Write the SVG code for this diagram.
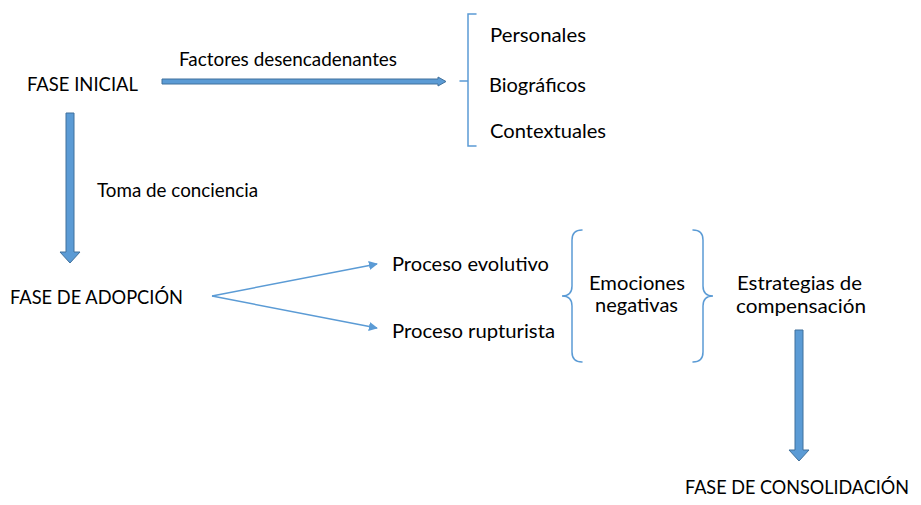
<svg xmlns="http://www.w3.org/2000/svg" width="921" height="505" viewBox="0 0 921 505">
<style>
text{font-family:Lato,"Open Sans","Liberation Sans",sans-serif;font-size:19px;fill:#000}
.blk{fill:#5B9BD5;stroke:#41719C;stroke-width:1}
.thin{fill:none;stroke:#5B9BD5;stroke-width:1.5}
.br{fill:none;stroke:#5B9BD5;stroke-width:1.5;stroke-linecap:round}
</style>
<defs>
<marker id="ah" viewBox="0 0 10 10" refX="9" refY="5" markerWidth="9" markerHeight="9" markerUnits="userSpaceOnUse" orient="auto">
<path d="M0,0 L10,5 L0,10 Z" fill="#5B9BD5"/>
</marker>
</defs>
<rect width="921" height="505" fill="#fff"/>
<g id="connectors">
<polygon class="blk" points="162,79 438,79 438,77 446,81.5 438,86 438,84 162,84"/>
<polygon class="blk" points="66,113 74,113 74,252 80,252 70,263 60,252 66,252"/>
<polygon class="blk" points="795,330 803,330 803,450 809,450 799,461 789,450 795,450"/>
<line class="thin" x1="212" y1="296" x2="377" y2="264" marker-end="url(#ah)"/>
<line class="thin" x1="212" y1="296" x2="377" y2="328" marker-end="url(#ah)"/>
</g>
<g id="fase-inicial"><text x="27" y="91" textLength="111" lengthAdjust="spacingAndGlyphs">FASE INICIAL</text></g>
<g id="factores"><text x="179" y="66" textLength="218" lengthAdjust="spacingAndGlyphs">Factores desencadenantes</text></g>
<g id="bracket-factores">
<path class="br" d="M476,14 L468,14 L468,146 L476,146 M468,81 L460,81"/>
</g>
<g id="personales"><text x="490" y="42" textLength="96" lengthAdjust="spacingAndGlyphs">Personales</text></g>
<g id="biograficos"><text x="489" y="92" textLength="97" lengthAdjust="spacingAndGlyphs">Biográficos</text></g>
<g id="contextuales"><text x="490" y="138" textLength="116" lengthAdjust="spacingAndGlyphs">Contextuales</text></g>
<g id="toma"><text x="97" y="197" textLength="161" lengthAdjust="spacingAndGlyphs">Toma de conciencia</text></g>
<g id="fase-adopcion"><text x="10" y="304" textLength="173" lengthAdjust="spacingAndGlyphs">FASE DE ADOPCIÓN</text></g>
<g id="evolutivo"><text x="392" y="271" textLength="157" lengthAdjust="spacingAndGlyphs">Proceso evolutivo</text></g>
<g id="rupturista"><text x="392" y="338" textLength="163" lengthAdjust="spacingAndGlyphs">Proceso rupturista</text></g>
<g id="brace-left">
<path class="br" d="M582,230 Q572,230 572,240 L572,286 Q572,296 562,296 Q572,296 572,306 L572,352 Q572,362 582,362"/>
</g>
<g id="emociones">
<text x="589" y="290" textLength="96" lengthAdjust="spacingAndGlyphs">Emociones</text>
<text x="595" y="312" textLength="83" lengthAdjust="spacingAndGlyphs">negativas</text>
</g>
<g id="brace-right">
<path class="br" d="M693,230 Q703,230 703,240 L703,286 Q703,296 713,296 Q703,296 703,306 L703,352 Q703,362 693,362"/>
</g>
<g id="estrategias">
<text x="737" y="290" textLength="125" lengthAdjust="spacingAndGlyphs">Estrategias de</text>
<text x="736" y="313" textLength="130" lengthAdjust="spacingAndGlyphs">compensación</text>
</g>
<g id="fase-consolidacion"><text x="685" y="494" font-size="17" textLength="224" lengthAdjust="spacingAndGlyphs">FASE DE CONSOLIDACIÓN</text></g>
</svg>
